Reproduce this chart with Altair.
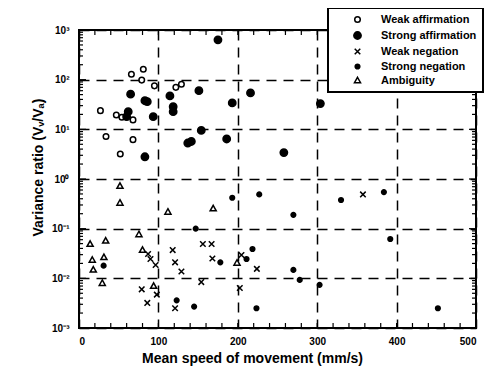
import altair as alt
import pandas as pd

categories = ["Weak affirmation", "Strong affirmation", "Weak negation", "Strong negation", "Ambiguity"]

wa_x = [27, 34, 47, 54, 52, 68, 68, 66, 79, 81, 95, 122, 129]
wa_y = [23.8, 7.2, 19.5, 17.5, 3.2, 15.5, 6.2, 129, 98, 162, 75, 70, 81]

sa_x = [65, 62, 60, 83, 86, 93.5, 83, 114.5, 118.6, 118.6, 151, 154, 137, 141.5, 175, 193, 216, 186, 258, 304]
sa_y = [51, 22.7, 18, 37.7, 36, 18, 2.8, 47, 28.5, 22.7, 60, 9.5, 5.3, 5.7, 634, 34, 54, 6.4, 3.4, 33]

wn_x = [357.6, 156, 167, 168, 204.6, 224, 154, 202.5, 87, 90, 96.5, 79, 86, 98, 118, 121, 129, 121]
wn_y = [0.49, 0.049, 0.049, 0.025, 0.0295, 0.0155, 0.0084, 0.0064, 0.031, 0.0245, 0.0186, 0.006,
        0.0032, 0.0047, 0.037, 0.021, 0.0137, 0.0025]

sn_x = [193, 227, 270, 330, 384, 392, 178, 218.5, 211, 270, 278, 303, 223.5, 452, 31, 147, 123, 145]
sn_y = [0.42, 0.49, 0.19, 0.377, 0.545, 0.062, 0.021, 0.039, 0.0245, 0.0148, 0.0093, 0.0074,
        0.0025, 0.0025, 0.018, 0.1, 0.0036, 0.0027]

am_x = [51.6, 51.6, 112, 169, 75.5, 14, 33.6, 16.7, 18, 31.4, 29.3, 80, 94, 199]
am_y = [0.72, 0.33, 0.217, 0.254, 0.0766, 0.049, 0.057, 0.0234, 0.0148, 0.0265, 0.008, 0.037, 0.007, 0.0204]

x_labels = [0, 100, 200, 300, 400, 500]
y_labels = [1e-3, 1e-2, 1e-1, 1e0, 1e1, 1e2, 1e3]
x_minor = [v for v in range(0, 501, 20)]
y_minor = [k * 10.0 ** e for e in range(-3, 3) for k in range(2, 10)]

rows = []
for name, xs_, ys_ in zip(categories, [wa_x, sa_x, wn_x, sn_x, am_x], [wa_y, sa_y, wn_y, sn_y, am_y]):
    for a, b in zip(xs_, ys_):
        rows.append({"speed": a, "ratio": b, "type": name})
df = pd.DataFrame(rows)

FONT = "Liberation Sans"
W, H = 397, 298
xs = alt.Scale(domain=[0, 500], nice=False, zero=False)
ys = alt.Scale(type="log", domain=[1e-3, 1e3], nice=False)

circ = "M0.62,0A0.62,0.62 0 1,1 -0.62,0A0.62,0.62 0 1,1 0.62,0Z"
big = "M0.82,0A0.82,0.82 0 1,1 -0.82,0A0.82,0.82 0 1,1 0.82,0Z"
small = "M0.52,0A0.52,0.52 0 1,1 -0.52,0A0.52,0.52 0 1,1 0.52,0Z"
xpath = "M-0.62,-0.62L0.62,0.62M-0.62,0.62L0.62,-0.62"
tri = "M0,-0.72L0.68,0.5L-0.68,0.5Z"

legend = alt.Legend(
    title=None, orient="none", legendX=249, legendY=-22,
    strokeColor="black", fillColor="white", padding=6,
    labelFont=FONT, labelFontWeight="bold", labelFontSize=11, labelColor="black",
    labelExpr="datum.label + '\u00a0\u00a0\u00a0\u00a0'",
    symbolStrokeWidth=1.5, symbolSize=80, rowPadding=2,
    labelOffset=18, symbolOffset=18,
)

xaxis = alt.Axis(
    values=x_labels, format="d", title="Mean speed of movement (mm/s)",
    grid=True, gridDash=[10, 7], gridColor="black", gridWidth=1.5, gridOpacity=1,
    ticks=False, domain=False, labelFont=FONT, labelFontWeight="bold", labelFontSize=10,
    labelColor="black", labelPadding=8, titleFont=FONT, titleFontWeight="bold",
    titleFontSize=14, titleColor="black", titlePadding=5, titleX=173)
yaxis = alt.Axis(
    values=y_labels, title="Variance ratio (Vᵥ/Vₐ)",
    labelExpr="'10' + ['⁻³','⁻²','⁻¹','⁰','¹','²','³'][round(log(datum.value)/LN10)+3]",
    grid=True, gridDash=[10, 7], gridColor="black", gridWidth=1.5, gridOpacity=1,
    ticks=False, domain=False, labelFont=FONT, labelFontWeight="bold", labelFontSize=10,
    labelColor="black", labelPadding=10, titleFont=FONT, titleFontWeight="bold",
    titleFontSize=14, titleColor="black", titleX=-41, titleY=137, titleAngle=270,
    titleAlign="center", titleBaseline="middle")

points = alt.Chart(df).mark_point(filled=True, strokeWidth=1.5, opacity=1, size=80).encode(
    x=alt.X("speed:Q", scale=xs, axis=xaxis),
    y=alt.Y("ratio:Q", scale=ys, axis=yaxis),
    shape=alt.Shape("type:N", scale=alt.Scale(domain=categories,
                    range=[circ, big, xpath, small, tri]), legend=legend),
    fill=alt.Fill("type:N", scale=alt.Scale(domain=categories,
                  range=["white", "black", "black", "black", "white"]), legend=legend),
    stroke=alt.Stroke("type:N", scale=alt.Scale(domain=categories,
                      range=["black", "black", "black", "black", "black"]), legend=legend),
)

tx = pd.DataFrame({"speed": x_minor})
ty = pd.DataFrame({"ratio": y_minor})
tY = pd.DataFrame({"ratio": y_labels})

rule = dict(color="black", strokeWidth=1.2)
bottom = alt.Chart(tx).mark_rule(**rule).encode(x=alt.X("speed:Q", scale=xs, axis=xaxis), y=alt.value(H), y2=alt.value(H - 5))
top = alt.Chart(tx).mark_rule(**rule).encode(x=alt.X("speed:Q", scale=xs, axis=xaxis), y=alt.value(0), y2=alt.value(5))
left = alt.Chart(ty).mark_rule(**rule).encode(y=alt.Y("ratio:Q", scale=ys, axis=yaxis), x=alt.value(0), x2=alt.value(4))
right = alt.Chart(ty).mark_rule(**rule).encode(y=alt.Y("ratio:Q", scale=ys, axis=yaxis), x=alt.value(W), x2=alt.value(W - 4))
leftM = alt.Chart(tY).mark_rule(**rule).encode(y=alt.Y("ratio:Q", scale=ys, axis=yaxis), x=alt.value(0), x2=alt.value(7))
rightM = alt.Chart(tY).mark_rule(**rule).encode(y=alt.Y("ratio:Q", scale=ys, axis=yaxis), x=alt.value(W), x2=alt.value(W - 7))

chart = alt.layer(bottom, top, left, right, leftM, rightM, points).properties(
    width=W, height=H, autosize=alt.AutoSizeParams(type="none"),
    padding={"left": 71, "top": 22, "right": 17, "bottom": 45},
    background="white",
).configure_view(stroke="black", strokeWidth=2).configure_legend(strokeWidth=2)

chart.save("out.html", embed_options={"renderer": "svg", "actions": False})
